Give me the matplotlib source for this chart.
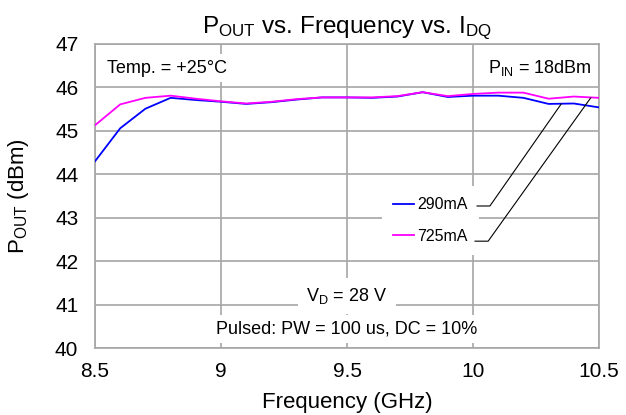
import matplotlib
matplotlib.use("Agg")
import matplotlib.pyplot as plt

plt.rcParams['font.family'] = ['Liberation Sans', 'DejaVu Sans']
plt.rcParams['mathtext.fontset'] = 'custom'
plt.rcParams['mathtext.rm'] = 'Liberation Sans'
plt.rcParams['mathtext.it'] = 'Liberation Sans'

freq = [8.5, 8.6, 8.7, 8.8, 8.9, 9.0, 9.1, 9.2, 9.3, 9.4, 9.5,
        9.6, 9.7, 9.8, 9.9, 10.0, 10.1, 10.2, 10.3, 10.4, 10.5]
pout_290 = [44.30, 45.06, 45.51, 45.76, 45.71, 45.67, 45.62, 45.66, 45.72, 45.77, 45.77,
            45.76, 45.79, 45.89, 45.78, 45.81, 45.81, 45.76, 45.62, 45.63, 45.54]
pout_725 = [45.13, 45.61, 45.76, 45.81, 45.74, 45.68, 45.63, 45.67, 45.73, 45.77, 45.77,
            45.77, 45.80, 45.89, 45.80, 45.85, 45.88, 45.88, 45.74, 45.79, 45.76]
labels = ['290mA', '725mA']
xticks = [8.5, 9, 9.5, 10, 10.5]
xticklabels = ['8.5', '9', '9.5', '10', '10.5']
yticks = [40, 41, 42, 43, 44, 45, 46, 47]

fig = plt.figure(figsize=(6.26, 4.15), dpi=100)
ax = fig.add_axes([0.1518, 0.1614, 0.8051, 0.7326])

grid_c = '#a6a6a6'
ax.set_xlim(8.5, 10.5)
ax.set_ylim(40, 47)
ax.set_xticks(xticks)
ax.set_xticklabels(xticklabels)
ax.set_yticks(yticks)
ax.grid(True, color=grid_c, linewidth=1.2, zorder=0)
ax.set_axisbelow(True)
for s in ax.spines.values():
    s.set_color(grid_c)
    s.set_linewidth(1.2)
ax.tick_params(axis='x', length=0, labelsize=15, pad=10)
ax.tick_params(axis='y', length=0, labelsize=15, pad=12)

l1, = ax.plot(freq, pout_290, color='#0000ff', linewidth=1.3, zorder=3)
l2, = ax.plot(freq, pout_725, color='#ff00ff', linewidth=1.3, zorder=3)

ax.set_title(r'P$_{\mathrm{OUT}}$ vs. Frequency vs. I$_{\mathrm{DQ}}$', fontsize=17.5, pad=8)
ax.set_xlabel('Frequency (GHz)', fontsize=16, labelpad=8)
ax.set_ylabel(r'P$_{\mathrm{OUT}}$ (dBm)', fontsize=16, labelpad=17)

ax.text(0.024, 0.921, 'Temp. = +25°C', transform=ax.transAxes, fontsize=13,
        va='center', ha='left', bbox=dict(facecolor='white', edgecolor='none', pad=4), zorder=2)
ax.text(0.986, 0.921, r'P$_{\mathrm{IN}}$ = 18dBm', transform=ax.transAxes, fontsize=13,
        va='center', ha='right', zorder=2)
ax.text(0.5, 0.171, r'V$_{\mathrm{D}}$ = 28 V', transform=ax.transAxes, fontsize=13,
        va='center', ha='center', bbox=dict(facecolor='white', edgecolor='none', pad=6), zorder=2)
ax.text(0.5, 0.0625, 'Pulsed: PW = 100 us, DC = 10%', transform=ax.transAxes, fontsize=13,
        va='center', ha='center', bbox=dict(facecolor='white', edgecolor='none', pad=4), zorder=2)

leg = ax.legend([l1, l2], labels, loc='center', bbox_to_anchor=(0.6657, 0.4194),
                frameon=True, fontsize=11.5, handlelength=1.3, handletextpad=0.2,
                labelspacing=1.05, borderpad=0.7, borderaxespad=0)
leg.get_frame().set_edgecolor('none')
leg.get_frame().set_facecolor('white')
leg.get_frame().set_alpha(1)
leg.get_frame().set_boxstyle('square', pad=0)
leg.set_zorder(2)

# leader lines from legend to curves
ax.plot([10.016, 10.067, 10.35], [43.27, 43.27, 45.62], color='black', linewidth=0.8, zorder=4)
ax.plot([10.008, 10.06, 10.467], [42.46, 42.46, 45.76], color='black', linewidth=0.8, zorder=4)

fig.savefig('out.png', dpi=100)
